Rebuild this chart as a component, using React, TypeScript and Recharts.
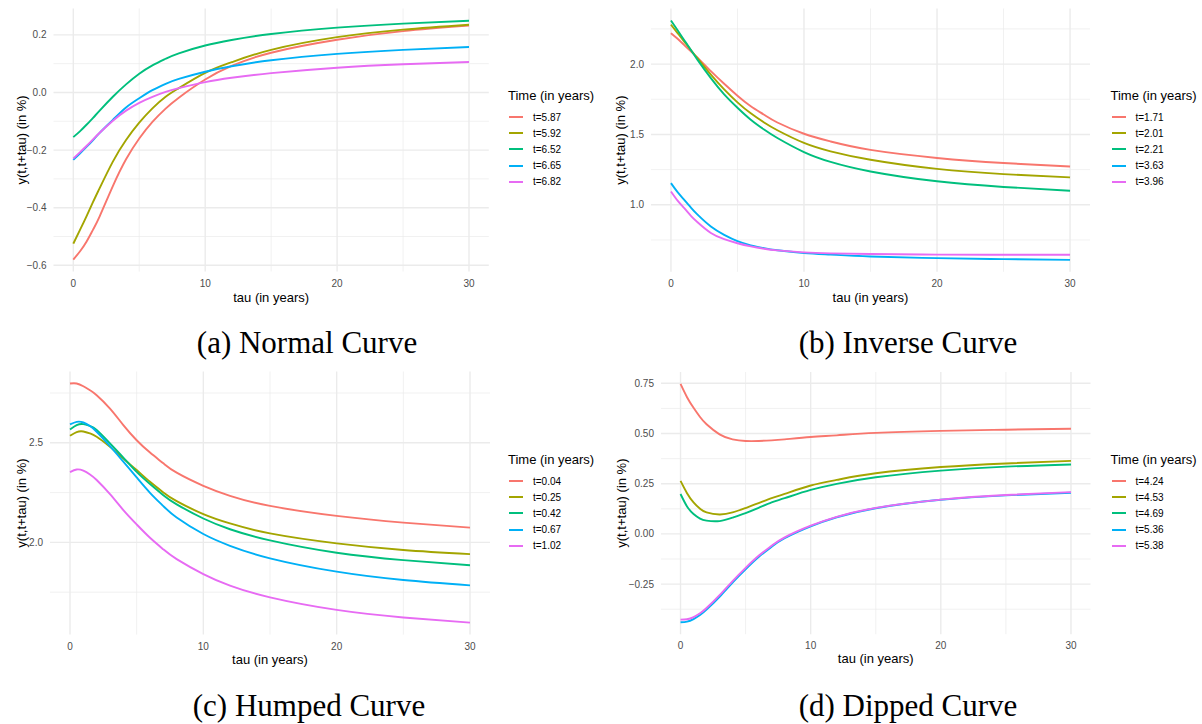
import React from "react";
import { CartesianGrid, Legend, Line, LineChart, XAxis, YAxis } from "recharts";

const TAU = [0, 0.5, 1, 1.5, 2, 3, 4, 5, 6, 7, 8, 10, 12, 15, 20, 25, 30];
const X_TICKS = [0, 10, 20, 30];
const X_MINOR = [5, 15, 25];
const COLORS = ["#F8766D", "#A3A500", "#00BF7D", "#00B0F6", "#E76BF3"];

// (a) normal curve
const normalNames = ["t=5.87", "t=5.92", "t=6.52", "t=6.65", "t=6.82"];
const normal587 = [-0.58, -0.552, -0.518, -0.476, -0.43, -0.325, -0.232, -0.16, -0.102, -0.056, -0.018, 0.045, 0.092, 0.138, 0.183, 0.213, 0.232];
const normal592 = [-0.525, -0.478, -0.43, -0.38, -0.332, -0.24, -0.165, -0.105, -0.055, -0.015, 0.015, 0.068, 0.105, 0.148, 0.192, 0.218, 0.235];
const normal652 = [-0.155, -0.135, -0.112, -0.088, -0.063, -0.015, 0.028, 0.065, 0.094, 0.117, 0.136, 0.163, 0.182, 0.203, 0.225, 0.239, 0.249];
const normal665 = [-0.234, -0.212, -0.189, -0.165, -0.14, -0.095, -0.052, -0.02, 0.008, 0.03, 0.047, 0.072, 0.091, 0.112, 0.134, 0.148, 0.158];
const normal682 = [-0.229, -0.208, -0.186, -0.163, -0.14, -0.098, -0.063, -0.036, -0.015, 0.002, 0.015, 0.036, 0.051, 0.067, 0.086, 0.098, 0.106];

// (b) inverse curve
const inverseNames = ["t=1.71", "t=2.01", "t=2.21", "t=3.63", "t=3.96"];
const inverse171 = [2.22, 2.18, 2.135, 2.09, 2.045, 1.95, 1.86, 1.775, 1.7, 1.64, 1.585, 1.505, 1.45, 1.39, 1.333, 1.297, 1.272];
const inverse201 = [2.28, 2.22, 2.16, 2.1, 2.04, 1.925, 1.82, 1.728, 1.65, 1.585, 1.53, 1.44, 1.38, 1.32, 1.255, 1.218, 1.195];
const inverse221 = [2.31, 2.24, 2.17, 2.1, 2.03, 1.9, 1.785, 1.69, 1.605, 1.535, 1.475, 1.375, 1.305, 1.237, 1.167, 1.127, 1.1];
const inverse363 = [1.154, 1.09, 1.035, 0.98, 0.93, 0.846, 0.787, 0.742, 0.712, 0.692, 0.677, 0.657, 0.646, 0.633, 0.621, 0.614, 0.609];
const inverse396 = [1.095, 1.03, 0.976, 0.922, 0.876, 0.8, 0.756, 0.727, 0.705, 0.688, 0.676, 0.662, 0.655, 0.65, 0.646, 0.645, 0.645];

// (c) humped curve
const humpedNames = ["t=0.04", "t=0.25", "t=0.42", "t=0.67", "t=1.02"];
const humped004 = [2.798, 2.798, 2.784, 2.764, 2.739, 2.672, 2.589, 2.513, 2.451, 2.397, 2.35, 2.284, 2.234, 2.183, 2.133, 2.099, 2.074];
const humped025 = [2.535, 2.554, 2.557, 2.547, 2.53, 2.48, 2.421, 2.363, 2.304, 2.251, 2.207, 2.142, 2.095, 2.045, 1.995, 1.962, 1.941];
const humped042 = [2.567, 2.589, 2.594, 2.584, 2.564, 2.497, 2.426, 2.354, 2.293, 2.237, 2.191, 2.12, 2.066, 2.01, 1.948, 1.911, 1.885];
const humped067 = [2.592, 2.605, 2.602, 2.584, 2.555, 2.483, 2.405, 2.326, 2.249, 2.182, 2.125, 2.042, 1.983, 1.92, 1.853, 1.811, 1.784];
const humped102 = [2.353, 2.366, 2.36, 2.341, 2.313, 2.242, 2.162, 2.09, 2.023, 1.965, 1.916, 1.841, 1.783, 1.724, 1.661, 1.623, 1.597];

// (d) dipped curve
const dippedNames = ["t=4.24", "t=4.53", "t=4.69", "t=5.36", "t=5.38"];
const dipped424 = [0.747, 0.681, 0.628, 0.582, 0.546, 0.496, 0.471, 0.463, 0.463, 0.466, 0.471, 0.483, 0.491, 0.503, 0.513, 0.519, 0.524];
const dipped453 = [0.264, 0.203, 0.157, 0.125, 0.107, 0.097, 0.107, 0.129, 0.153, 0.178, 0.199, 0.241, 0.269, 0.302, 0.333, 0.351, 0.364];
const dipped469 = [0.199, 0.137, 0.099, 0.076, 0.066, 0.064, 0.081, 0.104, 0.13, 0.157, 0.178, 0.219, 0.249, 0.282, 0.315, 0.335, 0.346];
const dipped536 = [-0.44, -0.437, -0.424, -0.404, -0.377, -0.313, -0.242, -0.176, -0.115, -0.064, -0.021, 0.038, 0.083, 0.128, 0.17, 0.192, 0.205];
const dipped538 = [-0.427, -0.425, -0.414, -0.395, -0.369, -0.305, -0.235, -0.169, -0.109, -0.059, -0.017, 0.041, 0.085, 0.13, 0.171, 0.194, 0.208];

const SANS = "'Liberation Sans', Arial, sans-serif";
const SERIF = "'Liberation Serif', 'Times New Roman', serif";

function rows(series: number[][]) {
  return TAU.map((tau, i) => {
    const r: Record<string, number> = { tau };
    series.forEach((s, j) => (r["s" + j] = s[i]));
    return r;
  });
}

const fmt = (dec: number) => (v: number) => v.toFixed(dec).replace("-", "\u2212");

function LegendBox({ payload }: any) {
  return (
    <div style={{ fontFamily: SANS, color: "#000" }}>
      <div style={{ fontSize: 13, lineHeight: "16px", height: 16, whiteSpace: "nowrap" }}>Time (in years)</div>
      <div style={{ height: 5 }} />
      {(payload || []).map((e: any) => (
        <div key={e.value} style={{ display: "flex", alignItems: "center", height: 16.2 }}>
          <div style={{ width: 14, height: 2, background: e.color, marginLeft: 1, marginRight: 10 }} />
          <span style={{ fontSize: 10 }}>{e.value}</span>
        </div>
      ))}
    </div>
  );
}

type PanelProps = {
  left: number; top: number; w: number;
  x0: number; x1: number; y0: number; y1: number;
  domain: [number, number]; ticks: number[]; minor: number[]; dec: number;
  labelX: number; legendLeft: number; legendTop: number;
  names: string[]; series: number[][];
  caption: string; capX: number; capY: number; xLabelOffset: number;
};

const H = 310;
const LEG_W = 100;

function Panel(p: PanelProps) {
  const data = rows(p.series);
  const yAxisW = p.x0 - p.left - 4;
  const margin = {
    top: p.y0 - p.top,
    left: 4,
    right: p.left + p.w - p.x1 - LEG_W,
    bottom: p.top + H - p.y1 - 30,
  };
  return (
    <>
      <div style={{ position: "absolute", left: p.left, top: p.top }}>
        <LineChart width={p.w} height={H} data={data} margin={margin}>
          <CartesianGrid stroke="#EBEBEB" strokeWidth={0.7} horizontalValues={p.minor} verticalValues={X_MINOR} />
          <CartesianGrid stroke="#EBEBEB" strokeWidth={1.4} horizontalValues={p.ticks} verticalValues={X_TICKS} />
          <XAxis
            type="number"
            dataKey="tau"
            domain={[-1.5, 31.5]}
            allowDataOverflow
            ticks={X_TICKS}
            axisLine={false}
            tickLine={false}
            height={30}
            tick={{ fontSize: 10, fill: "#4D4D4D", fontFamily: SANS }}
            label={{ value: "tau (in years)", position: "insideBottom", offset: p.xLabelOffset, fill: "#000", fontSize: 13, fontFamily: SANS }}
          />
          <YAxis
            type="number"
            domain={p.domain}
            allowDataOverflow
            ticks={p.ticks}
            tickFormatter={fmt(p.dec)}
            axisLine={false}
            tickLine={false}
            tickMargin={1}
            width={yAxisW}
            tick={{ fontSize: 10, fill: "#4D4D4D", fontFamily: SANS }}
            label={{
              value: "y(t,t+tau) (in %)",
              angle: -90,
              position: "insideLeft",
              offset: p.labelX - p.left - 4,
              fill: "#000",
              fontSize: 13,
              fontFamily: SANS,
              style: { textAnchor: "middle" },
            }}
          />
          <Legend
            layout="vertical"
            align="right"
            verticalAlign="top"
            width={LEG_W}
            content={<LegendBox />}
            wrapperStyle={{ left: p.legendLeft - p.left, top: p.legendTop - p.top, right: "auto", width: LEG_W }}
          />
          {p.names.map((n, i) => (
            <Line
              key={n}
              type="natural"
              dataKey={"s" + i}
              name={n}
              stroke={COLORS[i]}
              strokeWidth={1.9}
              dot={false}
              activeDot={false}
              isAnimationActive={false}
            />
          ))}
        </LineChart>
      </div>
      <div
        style={{
          position: "absolute",
          left: p.capX - 300,
          top: p.capY - 15.7,
          width: 600,
          textAlign: "center",
          fontFamily: SERIF,
          fontSize: 31,
          lineHeight: "31px",
          color: "#000",
          whiteSpace: "nowrap",
        }}
      >
        {p.caption}
      </div>
    </>
  );
}

export default function App() {
  return (
    <div style={{ position: "absolute", left: 0, top: 0, width: 1202, height: 724, background: "#fff", overflow: "hidden" }}>
      <Panel
        left={0} top={0} w={600} x0={53.5} x1={488.8} y0={8.5} y1={271.5}
        domain={[-0.6215, 0.2915]} ticks={[-0.6, -0.4, -0.2, 0, 0.2]} minor={[-0.5, -0.3, -0.1, 0.1]} dec={1}
        labelX={21.7} legendLeft={508} legendTop={88}
        names={normalNames} series={[normal587, normal592, normal652, normal665, normal682]}
        caption="(a) Normal Curve" capX={307} capY={343} xLabelOffset={0}
      />
      <Panel
        left={600} top={0} w={602} x0={651} x1={1090} y0={8.5} y1={271.8}
        domain={[0.524, 2.395]} ticks={[1.0, 1.5, 2.0]} minor={[0.75, 1.25, 1.75, 2.25]} dec={1}
        labelX={620} legendLeft={1110.5} legendTop={88}
        names={inverseNames} series={[inverse171, inverse201, inverse221, inverse363, inverse396]}
        caption="(b) Inverse Curve" capX={908} capY={343} xLabelOffset={0}
      />
      <Panel
        left={0} top={362} w={600} x0={50} x1={490} y0={371.5} y1={634.6}
        domain={[1.537, 2.858]} ticks={[2.0, 2.5]} minor={[1.75, 2.25, 2.75]} dec={1}
        labelX={21} legendLeft={508} legendTop={452}
        names={humpedNames} series={[humped004, humped025, humped042, humped067, humped102]}
        caption="(c) Humped Curve" capX={309} capY={706} xLabelOffset={1}
      />
      <Panel
        left={600} top={362} w={602} x0={661} x1={1090.5} y0={372} y1={634.2}
        domain={[-0.4994, 0.8064]} ticks={[-0.25, 0, 0.25, 0.5, 0.75]} minor={[-0.375, -0.125, 0.125, 0.375, 0.625]} dec={2}
        labelX={621.7} legendLeft={1110.5} legendTop={452}
        names={dippedNames} series={[dipped424, dipped453, dipped469, dipped536, dipped538]}
        caption="(d) Dipped Curve" capX={908} capY={706} xLabelOffset={1}
      />
    </div>
  );
}
